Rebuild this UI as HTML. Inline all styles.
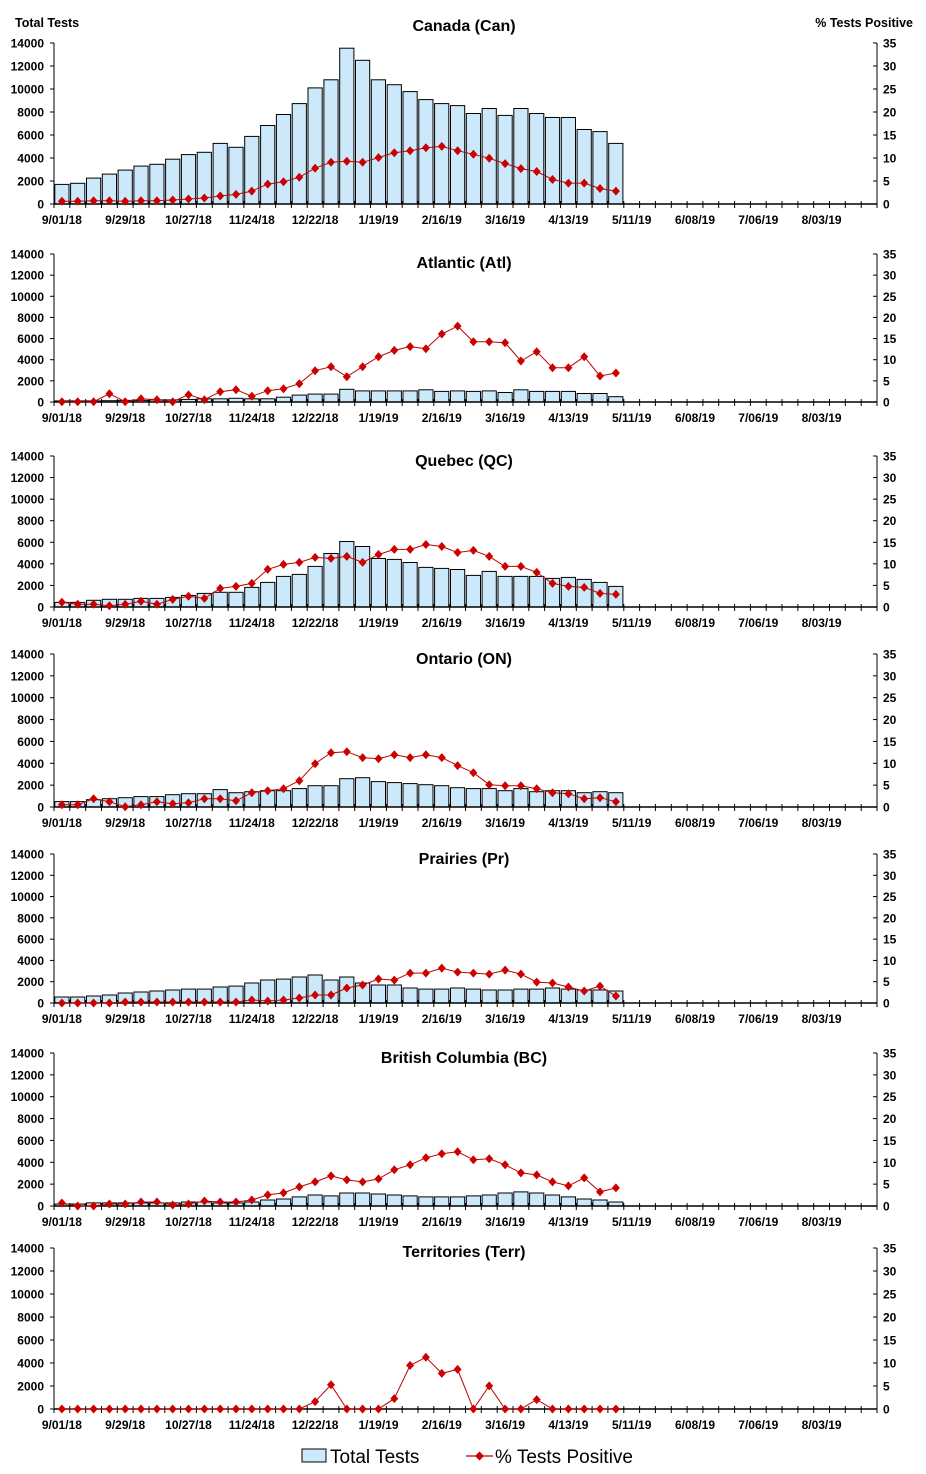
<!DOCTYPE html>
<html><head><meta charset="utf-8"><style>
html,body{margin:0;padding:0;background:#fff;}
svg{display:block;font-family:"Liberation Sans",Arial,sans-serif;}
</style></head><body>
<svg id="s" width="926" height="1474" viewBox="0 0 926 1474" xmlns="http://www.w3.org/2000/svg">
<text x="15" y="27" font-size="12.5" font-weight="bold">Total Tests</text>
<text x="913" y="27" font-size="12.5" font-weight="bold" text-anchor="end">% Tests Positive</text>
<rect x="302" y="1449" width="24" height="13" fill="#cce9fb" stroke="#000" stroke-width="1"/>
<text x="330" y="1463" font-size="19">Total Tests</text>
<line x1="466" y1="1456" x2="493" y2="1456" stroke="#c00000" stroke-width="1.2"/>
<path d="M479.5 1451.5 L484 1456 L479.5 1460.5 L475 1456Z" fill="#cc0000"/>
<text x="495" y="1463" font-size="19">% Tests Positive</text>
</svg>
<script>
var panels=[
{t:"Canada (Can)",top:43,bot:204,ty:31,
b:[1.7,1.8,2.25,2.6,2.95,3.3,3.45,3.9,4.3,4.5,5.27,4.93,5.88,6.83,7.78,8.73,10.1,10.8,13.55,12.5,10.8,10.37,9.77,9.08,8.73,8.56,7.87,8.3,7.7,8.3,7.87,7.52,7.52,6.48,6.3,5.27],
p:[0.58,0.58,0.72,0.72,0.58,0.72,0.72,0.86,1.08,1.3,1.73,2.09,2.81,4.32,4.82,5.83,7.78,9.07,9.29,9.07,10.08,11.16,11.59,12.24,12.53,11.59,10.8,9.94,8.78,7.7,7.06,5.33,4.54,4.54,3.38,2.81]},
{t:"Atlantic (Atl)",top:254,bot:402,ty:268,
b:[0.1,0.1,0.1,0.12,0.15,0.15,0.2,0.2,0.25,0.3,0.3,0.35,0.3,0.3,0.45,0.65,0.75,0.75,1.2,1.05,1.05,1.05,1.05,1.15,1.0,1.05,1.0,1.05,0.9,1.15,1.0,1.0,1.0,0.8,0.8,0.5],
p:[0.08,0.08,0.08,1.97,0.08,0.79,0.55,0.08,1.73,0.55,2.44,2.92,1.34,2.68,3.15,4.33,7.4,8.35,5.99,8.35,10.72,12.21,13.1,12.6,16.07,17.96,14.26,14.26,14.03,9.69,11.9,8.1,8.1,10.72,6.15,6.86]},
{t:"Quebec (QC)",top:456,bot:607,ty:466,
b:[0.43,0.43,0.62,0.71,0.71,0.8,0.8,0.89,1.08,1.26,1.36,1.36,1.82,2.28,2.84,3.02,3.76,4.96,6.07,5.61,4.5,4.41,4.13,3.67,3.58,3.48,2.93,3.3,2.84,2.84,2.84,2.65,2.74,2.56,2.28,1.91],
p:[1.08,0.62,0.62,0.31,0.62,1.31,0.62,1.77,2.47,2.0,4.32,4.78,5.47,8.71,9.87,10.33,11.49,11.26,11.72,10.33,12.18,13.34,13.34,14.49,14.03,12.64,13.11,11.72,9.4,9.4,8.02,5.47,4.78,4.55,3.16,2.93]},
{t:"Ontario (ON)",top:654,bot:807,ty:664,
b:[0.49,0.49,0.67,0.76,0.85,0.95,0.95,1.13,1.22,1.22,1.59,1.31,1.4,1.49,1.49,1.68,1.95,1.95,2.59,2.68,2.32,2.23,2.14,2.04,1.95,1.77,1.68,1.68,1.49,1.68,1.4,1.49,1.49,1.31,1.4,1.31],
p:[0.53,0.53,1.91,1.22,0.08,0.53,1.22,0.76,0.99,1.91,1.91,1.45,3.28,3.74,4.19,6.02,9.91,12.43,12.66,11.29,11.06,11.97,11.29,11.97,11.29,9.46,7.85,5.11,4.88,4.88,4.19,3.28,3.05,1.91,2.13,1.22]},
{t:"Prairies (Pr)",top:854,bot:1003,ty:864,
b:[0.56,0.56,0.66,0.75,0.94,1.03,1.13,1.22,1.31,1.31,1.5,1.59,1.88,2.16,2.25,2.44,2.63,2.16,2.44,1.88,1.69,1.69,1.41,1.31,1.31,1.41,1.31,1.22,1.22,1.31,1.31,1.41,1.31,1.22,1.22,1.13],
p:[0,0,0,0,0.23,0.23,0.23,0.23,0.23,0.23,0.23,0.23,0.7,0.47,0.7,1.17,1.88,1.88,3.52,4.22,5.63,5.39,7.03,7.03,8.2,7.27,7.03,6.8,7.73,6.8,4.92,4.69,3.75,2.81,3.98,1.64]},
{t:"British Columbia (BC)",top:1053,bot:1206,ty:1063,
b:[0.18,0.18,0.28,0.28,0.28,0.28,0.28,0.28,0.37,0.37,0.28,0.28,0.37,0.55,0.64,0.83,1.01,0.92,1.19,1.19,1.1,1.01,0.92,0.83,0.83,0.83,0.92,1.01,1.19,1.29,1.19,1.01,0.83,0.64,0.55,0.37],
p:[0.69,0,0,0.46,0.46,0.92,0.92,0.23,0.46,1.15,0.92,0.92,1.38,2.53,2.99,4.37,5.51,6.89,5.97,5.51,6.2,8.27,9.42,11.03,11.95,12.41,10.57,10.8,9.42,7.58,7.12,5.51,4.6,6.43,3.22,4.14]},
{t:"Territories (Terr)",top:1248,bot:1409,ty:1257,
b:[0,0,0,0,0,0,0,0,0,0,0,0,0,0,0,0,0,0,0,0,0,0,0,0,0,0,0,0,0,0,0,0,0,0,0,0],
p:[0,0,0,0,0,0,0,0,0,0,0,0,0,0,0,0,1.6,5.25,0,0,0,2.26,9.48,11.23,7.73,8.6,0,5.03,0,0,2.04,0,0,0,0,0]}
];
var labs=["9/01/18","9/29/18","10/27/18","11/24/18","12/22/18","1/19/19","2/16/19","3/16/19","4/13/19","5/11/19","6/08/19","7/06/19","8/03/19"];
var X0=54,X1=877,P=(X1-X0)/52,h="";
panels.forEach(function(d){
 var H=d.bot-d.top;
 h+='<text x="464" y="'+d.ty+'" font-size="16" font-weight="bold" text-anchor="middle">'+d.t+'</text>';
 for(var i=0;i<36;i++){var v=d.b[i]*1000;if(v<=0)continue;var bh=v/14000*H;
  h+='<rect x="'+(X0+i*P+0.8).toFixed(1)+'" y="'+(d.bot-bh).toFixed(1)+'" width="'+(P-1.6).toFixed(1)+'" height="'+bh.toFixed(1)+'" fill="#cce9fb" stroke="#000" stroke-width="1"/>';}
 for(var k=0;k<8;k++){var y=d.bot-k*H/7;
  h+='<line x1="'+(X0-4)+'" y1="'+y+'" x2="'+X0+'" y2="'+y+'" stroke="#000"/>';
  h+='<line x1="'+(X1-4)+'" y1="'+y+'" x2="'+X1+'" y2="'+y+'" stroke="#000"/>';
  h+='<text x="'+(X0-10)+'" y="'+(y+4.5)+'" font-size="12" font-weight="bold" text-anchor="end">'+(k*2000)+'</text>';
  h+='<text x="'+(X1+6)+'" y="'+(y+4.5)+'" font-size="12" font-weight="bold">'+(k*5)+'</text>';}
 h+='<line x1="'+X0+'" y1="'+d.top+'" x2="'+X0+'" y2="'+d.bot+'" stroke="#000"/>';
 h+='<line x1="'+X1+'" y1="'+d.top+'" x2="'+X1+'" y2="'+d.bot+'" stroke="#000"/>';
 h+='<line x1="'+X0+'" y1="'+d.bot+'" x2="'+X1+'" y2="'+d.bot+'" stroke="#000" stroke-width="1.6"/>';
 for(var w=0;w<=52;w++){var x=X0+w*P;h+='<line x1="'+x.toFixed(1)+'" y1="'+(d.bot-3)+'" x2="'+x.toFixed(1)+'" y2="'+(d.bot+4)+'" stroke="#000"/>';}
 labs.forEach(function(l,j){h+='<text x="'+(X0+(j*4+0.5)*P).toFixed(1)+'" y="'+(d.bot+20)+'" font-size="12" font-weight="bold" text-anchor="middle">'+l+'</text>';});
 var pts=d.p.map(function(v,i){return [(X0+(i+0.5)*P),(d.bot-v/35*H)];});
 h+='<polyline fill="none" stroke="#c00000" stroke-width="1" points="'+pts.map(function(q){return q[0].toFixed(1)+','+q[1].toFixed(1)}).join(' ')+'"/>';
 pts.forEach(function(q){var x=q[0],y=q[1];h+='<path d="M'+x.toFixed(1)+' '+(y-4.5).toFixed(1)+' L'+(x+4).toFixed(1)+' '+y.toFixed(1)+' L'+x.toFixed(1)+' '+(y+4.5).toFixed(1)+' L'+(x-4).toFixed(1)+' '+y.toFixed(1)+'Z" fill="#cc0000"/>';});
});
document.getElementById("s").insertAdjacentHTML("beforeend",h);
</script>
</body></html>
